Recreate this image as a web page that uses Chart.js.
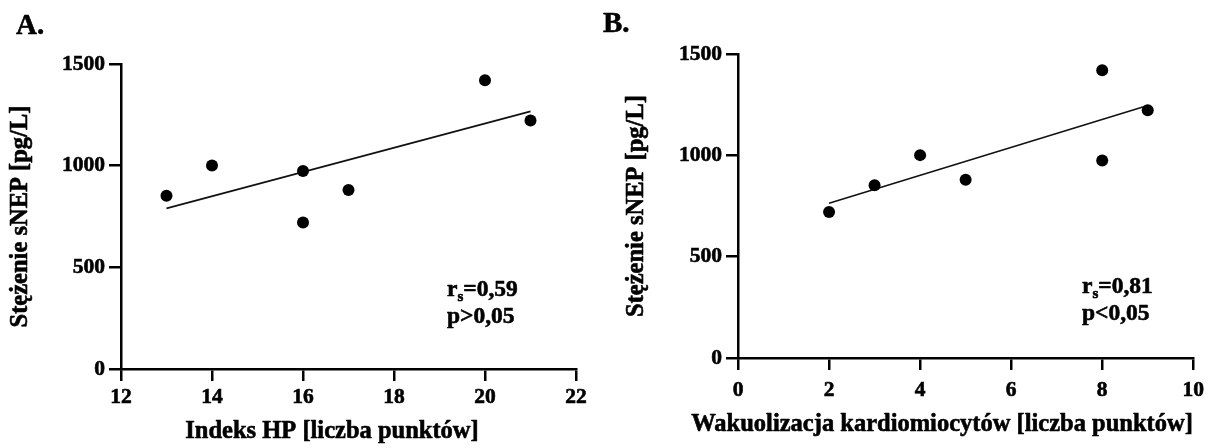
<!DOCTYPE html>
<html>
<head>
<meta charset="utf-8">
<script src="https://cdn.jsdelivr.net/npm/chart.js@4.4.1/dist/chart.umd.min.js"></script>
<style>
  html, body { margin: 0; padding: 0; background: #fff; }
  #wrap { position: relative; width: 1212px; height: 448px; }
  #wrap canvas { position: absolute; left: 0; top: 0; }
</style>
</head>
<body>
<div id="wrap">
  <canvas id="chartA" width="1212" height="448"></canvas>
  <canvas id="chartB" width="1212" height="448"></canvas>
</div>
<script>
// sNEP concentration per animal, with both histopathology scores
const snepConcentration = [852, 1001, 974, 720, 880, 1420, 1222];
const hpIndex          = [13, 14, 16, 16, 17, 20, 21];
const vacuolization    = [3, 4, 8, 2, 5, 8, 9];

// fitted regression lines (end points)
const fitHpX  = [13, 21];
const fitHpY  = [790, 1267];
const fitVacX = [2, 9];
const fitVacY = [764, 1246];

// axis ticks
const yTickValues  = [0, 500, 1000, 1500];
const xTicksHp     = [12, 14, 16, 18, 20, 22];
const xTicksVac    = [0, 2, 4, 6, 8, 10];

// texts
const panelLetters = ['A.', 'B.'];
const yTitle       = 'Stężenie sNEP [pg/L]';
const xTitleHp     = 'Indeks HP [liczba punktów]';
const xTitleVac    = 'Wakuolizacja kardiomiocytów [liczba punktów]';
const statsHp      = ['0,59', 'p>0,05'];
const statsVac     = ['0,81', 'p<0,05'];

const FONT = "'Liberation Serif', 'Times New Roman', serif";
const BLACK = '#000';
const HEAVY = 0.6;   // extra stroke to thicken the bold serif glyphs

function pairs(xs, ys) { return xs.map((x, i) => ({ x, y: ys[i] })); }

function heavyText(ctx, text, x, y) {
  ctx.fillText(text, x, y);
  ctx.strokeText(text, x, y);
}

// draws the panel letter, axis titles and the Spearman annotation
const annotate = {
  id: 'annotate',
  afterDraw(chart, args, o) {
    const ctx = chart.ctx;
    const area = chart.chartArea;
    ctx.save();
    ctx.fillStyle = BLACK;
    ctx.strokeStyle = BLACK;
    ctx.lineWidth = HEAVY;
    ctx.lineJoin = 'round';
    ctx.textBaseline = 'alphabetic';
    ctx.textAlign = 'left';
    ctx.font = `bold 29px ${FONT}`;
    heavyText(ctx, o.letter, o.letterX, o.letterY);

    ctx.font = `bold 23.5px ${FONT}`;
    let x = o.statX;
    heavyText(ctx, 'r', x, o.statY);
    x += ctx.measureText('r').width;
    ctx.font = `bold 15px ${FONT}`;
    heavyText(ctx, 's', x, o.statY + 5);
    x += ctx.measureText('s').width;
    ctx.font = `bold 23.5px ${FONT}`;
    heavyText(ctx, '=' + o.stats[0], x, o.statY);
    heavyText(ctx, o.stats[1], o.statX, o.statY + 27);

    ctx.font = `bold 24.5px ${FONT}`;
    ctx.textAlign = 'center';
    ctx.textBaseline = 'middle';
    heavyText(ctx, o.xTitle, o.xTitleX, o.xTitleY);

    ctx.translate(o.yTitleX, (area.top + area.bottom) / 2);
    ctx.rotate(-Math.PI / 2);
    heavyText(ctx, yTitle, 0, 0);
    ctx.restore();
  }
};

function makeChart(id, cfg) {
  const tickFont = { family: FONT, size: 21.5, weight: 'bold' };
  const axisGrid = { display: true, drawOnChartArea: false, drawTicks: true, tickLength: 12, color: BLACK, lineWidth: 2.5 };
  const axisBorder = { display: true, color: BLACK, width: 2.5 };
  const tickStyle = { color: BLACK, font: tickFont, autoSkip: false, textStrokeColor: BLACK, textStrokeWidth: HEAVY,
                      callback: v => String(v) };

  return new Chart(document.getElementById(id), {
    type: 'scatter',
    data: {
      datasets: [
        {
          data: pairs(cfg.xs, snepConcentration),
          backgroundColor: BLACK,
          borderWidth: 0,
          pointRadius: 6,
          pointHoverRadius: 6,
          order: 1
        },
        {
          type: 'line',
          data: pairs(cfg.fitX, cfg.fitY),
          borderColor: '#111',
          borderWidth: 1.6,
          pointRadius: 0,
          fill: false,
          order: 2
        }
      ]
    },
    options: {
      responsive: false,
      animation: false,
      events: [],
      layout: { padding: cfg.padding },
      plugins: {
        legend: { display: false },
        tooltip: { enabled: false },
        annotate: cfg.annot
      },
      scales: {
        x: {
          type: 'linear',
          min: cfg.xTicks[0],
          max: cfg.xTicks[cfg.xTicks.length - 1],
          afterBuildTicks: s => { s.ticks = cfg.xTicks.map(v => ({ value: v })); },
          afterFit: s => { s.height = cfg.xHeight; },
          grid: axisGrid,
          border: axisBorder,
          ticks: Object.assign({ padding: cfg.xTickPad, maxRotation: 0 }, tickStyle),
          title: { display: false }
        },
        y: {
          type: 'linear',
          min: 0,
          max: 1500,
          afterBuildTicks: s => { s.ticks = yTickValues.map(v => ({ value: v })); },
          afterFit: s => { s.width = cfg.yWidth; },
          grid: axisGrid,
          border: axisBorder,
          ticks: Object.assign({ padding: 4 }, tickStyle),
          title: { display: false }
        }
      }
    },
    plugins: [annotate]
  });
}

makeChart('chartA', {
  xs: hpIndex, fitX: fitHpX, fitY: fitHpY, xTicks: xTicksHp,
  padding: { left: 0, top: 64, right: 636, bottom: 0 },
  xHeight: 79, yWidth: 121, xTickPad: 4,
  annot: { letter: panelLetters[0], letterX: 16, letterY: 34, stats: statsHp, statX: 447, statY: 296,
           xTitle: xTitleHp, xTitleX: 332, xTitleY: 432, yTitleX: 21 }
});

makeChart('chartB', {
  xs: vacuolization, fitX: fitVacX, fitY: fitVacY, xTicks: xTicksVac,
  padding: { left: 600, top: 54, right: 18, bottom: 0 },
  xHeight: 90, yWidth: 138, xTickPad: 8,
  annot: { letter: panelLetters[1], letterX: 603, letterY: 32, stats: statsVac, statX: 1082, statY: 293,
           xTitle: xTitleVac, xTitleX: 942, xTitleY: 425, yTitleX: 637 }
});
</script>
</body>
</html>
